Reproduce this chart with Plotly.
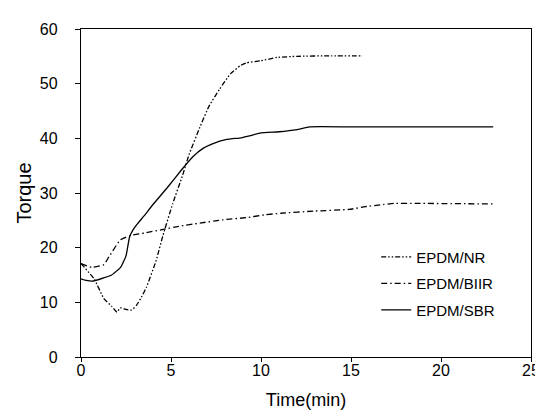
import plotly.graph_objects as go

# Data
nr_time = [0, 0.73, 1.27, 1.7, 2.0, 2.18, 2.5, 2.82, 3.09, 3.35, 3.64, 4.18, 4.55,
           5.09, 5.64, 6.0, 6.6, 7.1, 7.7, 8.3, 8.85, 9.2, 10.0, 10.9, 12.0, 13.9, 15.65]
nr_torque = [17.1, 14.3, 10.7, 9.3, 8.2, 9.0, 8.7, 8.6, 9.5, 10.9, 12.8, 17.7, 22.2,
             28.0, 33.2, 37.0, 42.0, 45.8, 49.0, 51.8, 53.3, 53.8, 54.2, 54.8, 55.0, 55.1, 55.1]

biir_time = [0, 0.6, 1.27, 1.55, 2.18, 2.73, 3.55, 4.5, 5.44, 6.6, 7.9, 9.2, 10.2, 11.1,
             13.0, 14.9, 15.8, 16.8, 17.4, 18.7, 22.9]
biir_torque = [17.1, 16.4, 16.9, 18.3, 21.4, 22.2, 22.7, 23.3, 23.9, 24.5, 25.1, 25.5, 26.0, 26.3,
               26.7, 27.0, 27.5, 27.9, 28.1, 28.1, 28.0]

sbr_time = [0, 0.3, 0.7, 1.3, 1.7, 2.2, 2.5, 2.7, 2.9, 3.1, 3.5, 4.0, 4.8, 5.6, 6.2, 6.8, 7.3,
            8.1, 8.9, 9.3, 10.0, 11.0, 12.0, 12.7, 15.0, 22.9]
sbr_torque = [14.3, 14.0, 13.9, 14.5, 15.0, 16.4, 18.5, 22.0, 23.3, 24.2, 25.8, 27.9, 31.0, 34.3,
              36.6, 38.2, 39.0, 39.8, 40.1, 40.4, 41.0, 41.2, 41.6, 42.1, 42.1, 42.1]

series = [
    ("EPDM/NR", nr_time, nr_torque, "5px,2px,1.5px,2px,1.5px,2px"),
    ("EPDM/BIIR", biir_time, biir_torque, "6px,3px,1.5px,3px"),
    ("EPDM/SBR", sbr_time, sbr_torque, "solid"),
]

x_ticks = [0, 5, 10, 15, 20, 25]
y_ticks = [0, 10, 20, 30, 40, 50, 60]

FONT = "Liberation Sans, Arial, sans-serif"

fig = go.Figure()
for i, (name, xs, ys, dash) in enumerate(series):
    fig.add_trace(go.Scatter(
        x=xs, y=ys, mode="lines", name=name, legendgroup=f"g{i}",
        line=dict(color="black", width=1.3, dash=dash, shape="spline", smoothing=0.4),
    ))

fig.update_layout(
    width=543, height=413,
    margin=dict(l=73, r=11, t=21, b=64),
    paper_bgcolor="white", plot_bgcolor="white",
    font=dict(family=FONT, size=16, color="black"),
    showlegend=True,
    legend=dict(
        x=0.656, y=0.355, xanchor="left", yanchor="top",
        bgcolor="rgba(0,0,0,0)", font=dict(size=15, family=FONT),
        traceorder="grouped", tracegroupgap=4,
    ),
)
fig.update_xaxes(
    range=[0, 25], tickvals=x_ticks, ticktext=[str(v) for v in x_ticks],
    showline=True, linecolor="black", linewidth=1.3, mirror=True,
    ticks="outside", ticklen=4, tickcolor="black", ticklabelstandoff=-5,
    tickfont=dict(size=16),
    showgrid=False, zeroline=False,
    title=dict(text="Time(min)", font=dict(size=18, family=FONT), standoff=15),
)
fig.update_yaxes(
    range=[0, 60], tickvals=y_ticks, ticktext=[str(v) for v in y_ticks],
    showline=True, linecolor="black", linewidth=1.3, mirror=True,
    ticks="outside", ticklen=5, tickcolor="black", ticklabelstandoff=14,
    tickfont=dict(size=16),
    showgrid=False, zeroline=False,
    title=dict(text="Torque", font=dict(size=20, family=FONT), standoff=2),
)

fig.write_html("out.html")
